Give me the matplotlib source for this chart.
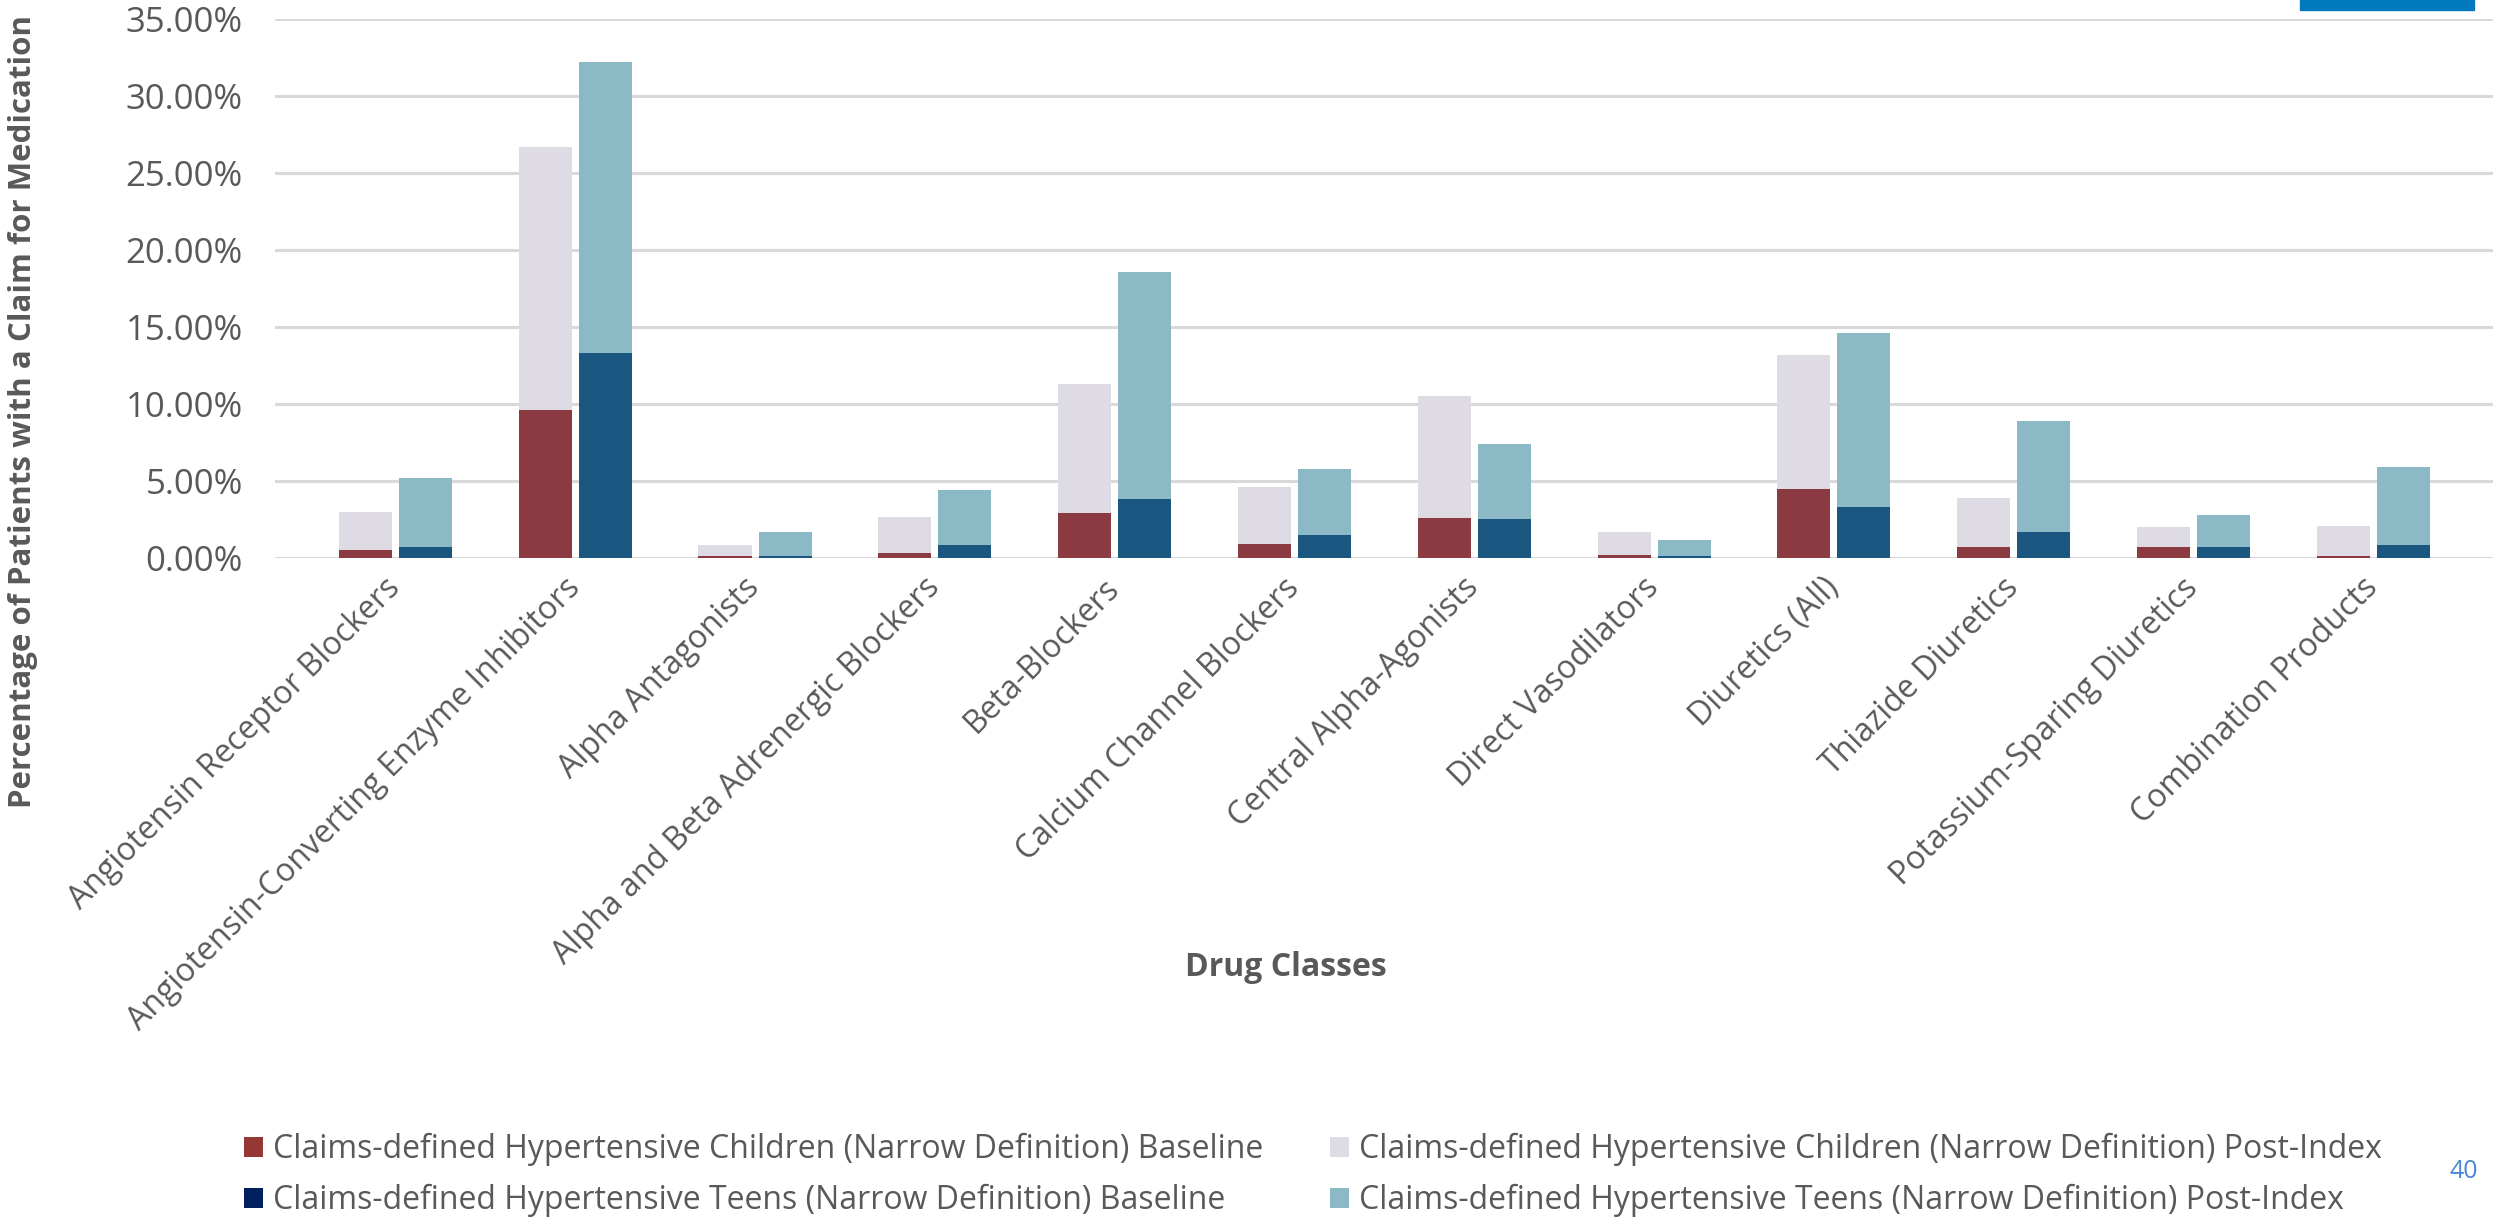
"""
Antihypertensive drug class use - children vs teens, baseline and post-index
"""
import matplotlib
matplotlib.use('Agg')
import matplotlib.pyplot as plt
from matplotlib.patches import Patch, Rectangle
import numpy as np

drug_classes = [
    "Angiotensin Receptor Blockers",
    "Angiotensin-Converting Enzyme Inhibitors",
    "Alpha Antagonists",
    "Alpha and Beta Adrenergic Blockers",
    "Beta-Blockers",
    "Calcium Channel Blockers",
    "Central Alpha-Agonists",
    "Direct Vasodilators",
    "Diuretics (All)",
    "Thiazide Diuretics",
    "Potassium-Sparing Diuretics",
    "Combination Products",
]

# percent of patients with a claim
children_baseline = [0.52, 9.60, 0.15, 0.30, 2.89, 0.90, 2.59, 0.20, 4.50, 0.70, 0.70, 0.12]
children_post = [3.01, 26.70, 0.82, 2.69, 11.29, 4.60, 10.50, 1.69, 13.18, 3.90, 2.01, 2.06]
teens_baseline = [0.70, 13.28, 0.10, 0.82, 3.80, 1.49, 2.54, 0.12, 3.31, 1.72, 0.70, 0.82]
teens_post = [5.17, 32.20, 1.69, 4.40, 18.56, 5.77, 7.41, 1.19, 14.60, 8.90, 2.79, 5.90]

legend_labels = [
    "Claims-defined Hypertensive Children (Narrow Definition) Baseline",
    "Claims-defined Hypertensive Teens (Narrow Definition) Baseline",
    "Claims-defined Hypertensive Children (Narrow Definition) Post-Index",
    "Claims-defined Hypertensive Teens (Narrow Definition) Post-Index",
]

TEXT = '#595959'
C_BASE = '#8B3A42'
C_POST = '#DEDBE4'
T_BASE = '#1B5680'
T_POST = '#8BB9C5'

plt.rcParams['font.family'] = ['Open Sans', 'DejaVu Sans']

fig = plt.figure(figsize=(25.06, 12.17), dpi=100)
ax = fig.add_axes([0.1097, 0.5415, 0.8851, 0.4429])

x = np.arange(len(drug_classes))
bw = 0.295
off = 0.167

# post-index drawn behind baseline (overlapping, not stacked)
ax.bar(x - off, children_post, bw, color=C_POST, zorder=2)
ax.bar(x - off, children_baseline, bw, color=C_BASE, zorder=3)
ax.bar(x + off, teens_post, bw, color=T_POST, zorder=2)
ax.bar(x + off, teens_baseline, bw, color=T_BASE, zorder=3)

ax.set_xlim(-0.67, 11.665)
ax.set_ylim(0, 35)
ax.set_yticks(np.arange(0, 36, 5))
ax.set_yticklabels([f'{v:.2f}%' for v in np.arange(0, 36, 5)])
ax.yaxis.grid(True, color='#D9D9D9', linewidth=2.2, zorder=1)
ax.set_axisbelow(True)
for s in ax.spines.values():
    s.set_visible(False)
ax.tick_params(axis='y', length=0, pad=23, labelsize=25, labelcolor=TEXT)
ax.tick_params(axis='x', length=0, pad=18, labelsize=23, labelcolor=TEXT)
ax.set_xticks(x)
ax.set_xticklabels(drug_classes, rotation=45, ha='right', va='center',
                   rotation_mode='anchor')

fig.text(0.009, 0.662, 'Percentage of Patients with a Claim for Medication',
         rotation=90, ha='center', va='center', fontsize=22.5, fontweight='bold', color=TEXT)
fig.text(0.513, 0.205, 'Drug Classes', ha='center', va='center',
         fontsize=23, fontweight='bold', color=TEXT)

handles = [
    Patch(facecolor='#953735'),
    Patch(facecolor='#002060'),
    Patch(facecolor=C_POST),
    Patch(facecolor=T_POST),
]
fig.legend(handles, legend_labels, ncol=2, loc='upper left',
           bbox_to_anchor=(0.0974, 0.069), frameon=False,
           fontsize=23, labelcolor=TEXT, handlelength=0.6, handleheight=0.6,
           handletextpad=0.3, columnspacing=2.1, labelspacing=0.55,
           borderpad=0, borderaxespad=0)

# slide number
fig.text(0.9833, 0.037, '40', ha='center', va='center', fontsize=18, color='#4A86D4')

# blue accent bar in top right corner
fig.patches.append(Rectangle((2300 / 2506, 1 - 10 / 1217), 174 / 2506, 10 / 1217,
                             transform=fig.transFigure, color='#0079BD', zorder=5))

fig.savefig('out.png', dpi=100)
plt.close(fig)
